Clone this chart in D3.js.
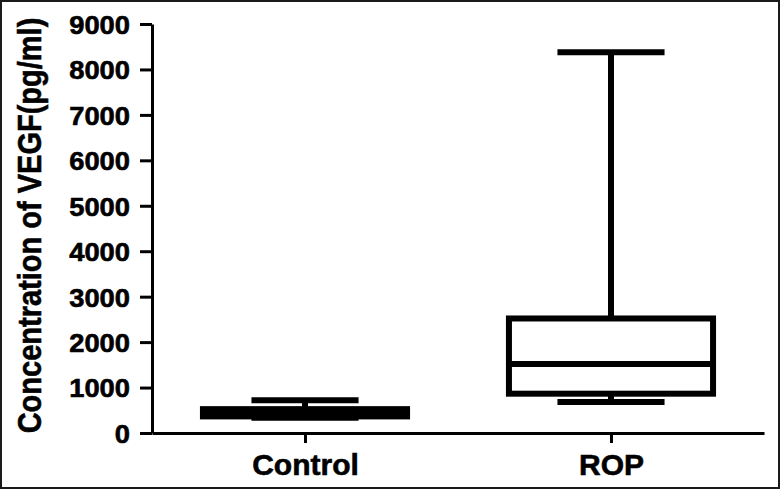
<!DOCTYPE html>
<html>
<head>
<meta charset="utf-8">
<script src="https://cdn.jsdelivr.net/npm/d3@7"></script>
<style>
  html, body { margin: 0; padding: 0; background: #fff; }
  svg { display: block; font-family: "Liberation Sans", Arial, Helvetica, sans-serif; font-weight: bold; }
</style>
</head>
<body>
<div id="chart"></div>
<script>
// box plot values (pg/ml)
const groups = ["Control", "ROP"];
const minVals = [335, 680];
const q1Vals = [365, 865];
const medianVals = [450, 1520];
const q3Vals = [525, 2520];
const maxVals = [720, 8380];
const yTicks = [0, 1000, 2000, 3000, 4000, 5000, 6000, 7000, 8000, 9000];
const yTitle = "Concentration of VEGF(pg/ml)";

const width = 780, height = 489;
const margin = { top: 24, right: 16, bottom: 56, left: 152 };

const svg = d3.select("#chart").append("svg")
    .attr("width", width)
    .attr("height", height);

// outer frame
svg.append("rect")
    .attr("x", 1).attr("y", 1)
    .attr("width", width - 2).attr("height", height - 2)
    .attr("fill", "none")
    .attr("stroke", "#1a1a1a")
    .attr("stroke-width", 2);

const y = d3.scaleLinear()
    .domain([0, 9000])
    .range([433, margin.top]);

const x = d3.scalePoint()
    .domain(groups)
    .range([margin.left, 764])
    .padding(0.5);

const step = x.step();
const boxW = step * 0.667;
const capW = step * 0.35;

// y axis
const yAxis = svg.append("g")
    .attr("transform", `translate(${margin.left},0)`)
    .call(d3.axisLeft(y).tickValues(yTicks).tickFormat(d3.format("d")).tickSize(12).tickSizeOuter(0).tickPadding(10));

yAxis.select(".domain").attr("stroke-width", 3).attr("stroke", "#000");
yAxis.selectAll(".tick line").attr("stroke-width", 3).attr("stroke", "#000");
yAxis.selectAll(".tick text")
    .attr("font-size", 26)
    .attr("font-family", "Liberation Sans, Arial, sans-serif")
    .attr("font-weight", "bold")
    .attr("fill", "#000")
    .attr("stroke", "#000").attr("stroke-width", 0.6)
    .attr("textLength", d => String(d).length * 15.2)
    .attr("lengthAdjust", "spacingAndGlyphs")
    .attr("dy", "0.36em");

// x axis
const xAxis = svg.append("g")
    .attr("transform", `translate(0,${y(0)})`)
    .call(d3.axisBottom(x).tickSize(10).tickSizeOuter(0).tickPadding(12));

xAxis.select(".domain").attr("stroke-width", 3).attr("stroke", "#000");
xAxis.selectAll(".tick line").attr("stroke-width", 3).attr("stroke", "#000");
xAxis.selectAll(".tick text")
    .attr("font-size", 30)
    .attr("font-family", "Liberation Sans, Arial, sans-serif")
    .attr("font-weight", "bold")
    .attr("fill", "#000")
    .attr("stroke", "#000").attr("stroke-width", 0.6)
    .attr("dy", "0.68em");

// y title, slightly taller glyphs like the reference
svg.append("text")
    .attr("transform", `translate(41,${(y(0) + 18) / 2}) rotate(-90) scale(1,1.15)`)
    .attr("text-anchor", "middle")
    .attr("font-size", 29)
    .attr("fill", "#000")
    .attr("stroke", "#000").attr("stroke-width", 0.5)
    .text(yTitle);

// boxes
const boxes = svg.append("g").selectAll("g.box")
    .data(groups)
    .join("g")
    .attr("class", "box");

boxes.append("line") // whisker
    .attr("x1", d => x(d)).attr("x2", d => x(d))
    .attr("y1", (d, i) => y(minVals[i]))
    .attr("y2", (d, i) => y(maxVals[i]))
    .attr("stroke", "#000").attr("stroke-width", 6);

boxes.append("line") // top cap
    .attr("x1", d => x(d) - capW / 2).attr("x2", d => x(d) + capW / 2)
    .attr("y1", (d, i) => y(maxVals[i])).attr("y2", (d, i) => y(maxVals[i]))
    .attr("stroke", "#000").attr("stroke-width", 6);

boxes.append("line") // bottom cap
    .attr("x1", d => x(d) - capW / 2).attr("x2", d => x(d) + capW / 2)
    .attr("y1", (d, i) => y(minVals[i])).attr("y2", (d, i) => y(minVals[i]))
    .attr("stroke", "#000").attr("stroke-width", 6);

boxes.append("rect")
    .attr("x", d => x(d) - boxW / 2)
    .attr("width", boxW)
    .attr("y", (d, i) => y(q3Vals[i]))
    .attr("height", (d, i) => y(q1Vals[i]) - y(q3Vals[i]))
    .attr("fill", "#fff")
    .attr("stroke", "#000").attr("stroke-width", 6);

boxes.append("line") // median
    .attr("x1", d => x(d) - boxW / 2).attr("x2", d => x(d) + boxW / 2)
    .attr("y1", (d, i) => y(medianVals[i])).attr("y2", (d, i) => y(medianVals[i]))
    .attr("stroke", "#000").attr("stroke-width", 6);
</script>
</body>
</html>
